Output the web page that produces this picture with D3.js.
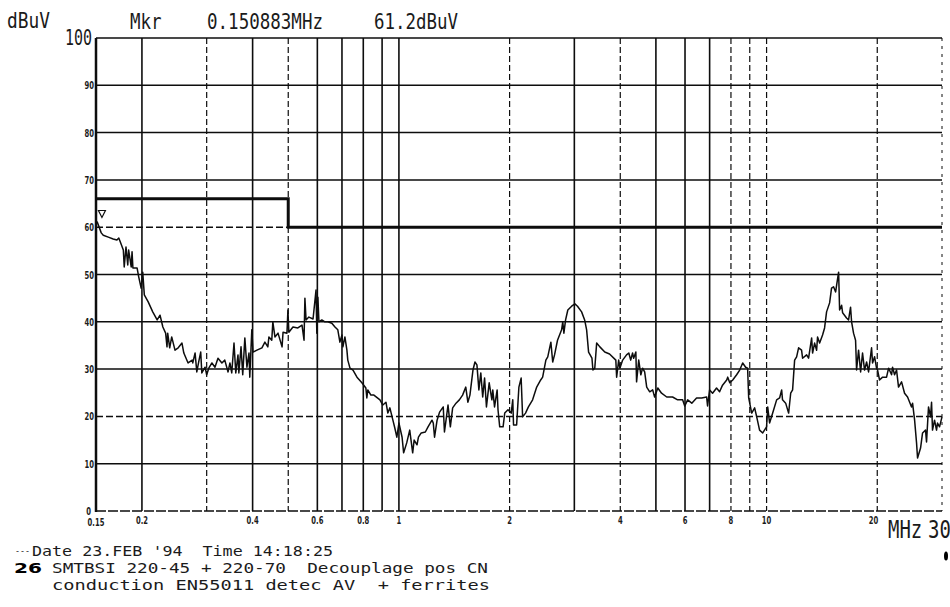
<!DOCTYPE html>
<html>
<head>
<meta charset="utf-8">
<script src="https://cdn.jsdelivr.net/npm/d3@7"></script>
<style>
  body { margin: 0; background: #fff; }
  text { white-space: pre; }
</style>
</head>
<body>
<script>
const freqMHz = [
  0.151, 0.155, 0.157, 0.162, 0.167, 0.171, 0.173, 0.175, 0.178, 0.179,
  0.181, 0.183, 0.184, 0.187, 0.188, 0.189, 0.194, 0.196, 0.199, 0.201,
  0.203, 0.208, 0.214, 0.220, 0.224, 0.228, 0.232, 0.234, 0.235, 0.238,
  0.241, 0.246, 0.251, 0.257, 0.260, 0.267, 0.274, 0.275, 0.279, 0.282,
  0.286, 0.289, 0.291, 0.297, 0.300, 0.304, 0.310, 0.316, 0.322, 0.330,
  0.336, 0.343, 0.347, 0.351, 0.356, 0.360, 0.365, 0.367, 0.372, 0.376,
  0.381, 0.386, 0.391, 0.393, 0.398, 0.401, 0.411, 0.424, 0.432, 0.440,
  0.443, 0.451, 0.454, 0.460, 0.469, 0.481, 0.484, 0.496, 0.499, 0.502,
  0.515, 0.531, 0.545, 0.552, 0.555, 0.559, 0.569, 0.584, 0.595, 0.598,
  0.602, 0.606, 0.617, 0.629, 0.641, 0.657, 0.670, 0.682, 0.691, 0.700,
  0.704, 0.713, 0.722, 0.726, 0.736, 0.750, 0.769, 0.793, 0.813, 0.818,
  0.823, 0.839, 0.855, 0.888, 0.904, 0.922, 0.933, 0.945, 0.963, 0.975,
  0.987, 1.00, 1.02, 1.03, 1.05, 1.07, 1.09, 1.10, 1.12, 1.13,
  1.15, 1.18, 1.20, 1.23, 1.24, 1.25, 1.27, 1.29, 1.32, 1.33,
  1.36, 1.38, 1.40, 1.43, 1.46, 1.49, 1.52, 1.54, 1.56, 1.59,
  1.61, 1.63, 1.65, 1.67, 1.69, 1.71, 1.73, 1.76, 1.79, 1.80,
  1.82, 1.85, 1.86, 1.88, 1.92, 1.94, 1.98, 2.02, 2.04, 2.05,
  2.09, 2.12, 2.15, 2.17, 2.21, 2.25, 2.31, 2.37, 2.43, 2.46,
  2.51, 2.54, 2.59, 2.62, 2.65, 2.70, 2.77, 2.79, 2.81, 2.84,
  2.88, 2.95, 3.01, 3.06, 3.14, 3.20, 3.24, 3.28, 3.35, 3.37,
  3.41, 3.45, 3.52, 3.63, 3.74, 3.89, 3.91, 3.96, 3.99, 4.06,
  4.16, 4.22, 4.27, 4.32, 4.35, 4.41, 4.43, 4.49, 4.55, 4.60,
  4.66, 4.72, 4.81, 4.90, 4.96, 5.06, 5.18, 5.35, 5.55, 5.73,
  5.91, 5.99, 6.10, 6.26, 6.45, 6.66, 6.87, 6.91, 7.00, 7.13,
  7.31, 7.45, 7.59, 7.79, 7.84, 7.94, 8.09, 8.29, 8.45, 8.61,
  8.77, 8.88, 8.94, 9.11, 9.28, 9.40, 9.57, 9.76, 10.0, 10.07,
  10.19, 10.39, 10.65, 10.85, 10.99, 11.05, 11.27, 11.48, 11.63, 11.77,
  11.92, 12.07, 12.22, 12.45, 12.53, 12.85, 13.01, 13.26, 13.34, 13.51,
  13.68, 13.76, 13.94, 14.20, 14.38, 14.56, 14.84, 15.02, 15.21, 15.41,
  15.51, 15.70, 15.80, 16.00, 16.10, 16.50, 16.71, 16.92, 17.03, 17.24,
  17.46, 17.57, 17.79, 18.02, 18.24, 18.47, 18.71, 18.94, 19.30, 19.42,
  19.67, 19.91, 20.04, 20.29, 20.68, 21.20, 21.47, 21.88, 22.01, 22.29,
  22.57, 22.85, 23.29, 23.73, 24.18, 24.79, 24.95, 25.27, 25.58, 25.74,
  26.23, 26.56, 27.06, 27.23, 27.57, 27.92, 28.10, 28.27, 28.63, 28.99,
  29.17, 29.54, 30.0
];
const levelDb = [
  61.2, 58.8, 58.3, 57.9, 57.5, 57.3, 57.7, 56.7, 55.2, 51.6,
  55.8, 52.0, 55.2, 51.6, 54.8, 51.4, 51.4, 49.5, 47.1, 50.5,
  45.7, 44.2, 42.1, 40.4, 41.4, 38.9, 37.6, 34.7, 37.6, 34.5,
  36.8, 34.0, 34.5, 35.5, 33.4, 31.3, 31.9, 31.3, 33.4, 29.4,
  31.9, 33.6, 29.2, 30.4, 28.8, 30.2, 31.3, 30.4, 32.3, 31.3,
  31.9, 29.4, 31.3, 29.2, 35.5, 29.2, 33.0, 29.2, 34.7, 28.8,
  36.6, 30.4, 33.4, 28.3, 38.3, 33.6, 34.0, 34.5, 35.7, 34.7,
  36.8, 36.1, 40.0, 36.8, 37.6, 34.7, 37.8, 37.6, 42.5, 37.8,
  38.9, 38.7, 39.3, 36.1, 45.0, 40.4, 41.0, 40.6, 46.7, 37.6,
  45.2, 40.0, 40.4, 40.0, 40.0, 39.7, 38.9, 38.3, 35.7, 37.2,
  34.7, 36.8, 34.0, 31.9, 30.2, 29.8, 28.3, 27.1, 26.0, 23.9,
  25.6, 24.5, 24.5, 23.5, 22.4, 23.0, 20.7, 21.8, 19.2, 17.5,
  15.6, 18.6, 15.6, 12.3, 14.4, 17.1, 12.3, 15.0, 14.0, 15.6,
  16.5, 16.7, 17.8, 19.2, 18.6, 15.6, 19.2, 20.9, 22.0, 16.7,
  22.4, 17.8, 21.8, 22.8, 23.5, 24.5, 26.2, 23.0, 24.5, 29.8,
  31.5, 30.9, 25.6, 29.2, 24.1, 28.1, 22.0, 27.1, 23.5, 25.6,
  22.0, 25.6, 21.4, 17.8, 17.8, 20.7, 21.4, 20.7, 23.5, 18.2,
  18.2, 26.2, 28.1, 19.9, 20.7, 22.0, 23.5, 26.2, 27.7, 28.3,
  31.9, 32.6, 35.7, 31.5, 33.0, 36.1, 38.3, 40.0, 37.6, 40.4,
  42.5, 43.3, 43.8, 43.3, 42.1, 40.4, 38.3, 33.6, 32.3, 29.8,
  30.2, 35.5, 34.7, 33.6, 33.2, 31.9, 28.3, 31.9, 30.2, 31.9,
  33.0, 33.4, 31.9, 33.4, 32.3, 33.6, 27.3, 31.9, 28.8, 30.2,
  29.4, 26.2, 25.2, 25.6, 24.1, 26.0, 24.9, 24.1, 24.1, 23.5,
  23.5, 22.2, 23.5, 22.8, 23.9, 23.9, 24.1, 22.2, 25.6, 24.9,
  26.0, 25.2, 26.6, 27.7, 28.3, 27.1, 27.7, 28.8, 29.8, 31.3,
  30.4, 30.2, 23.9, 20.7, 21.8, 19.9, 17.1, 16.5, 17.8, 22.0,
  18.6, 20.7, 23.5, 23.9, 25.6, 23.5, 22.8, 20.7, 24.9, 25.6,
  31.9, 32.6, 34.5, 34.0, 32.3, 33.0, 32.3, 36.6, 33.4, 35.5,
  34.0, 36.8, 35.5, 37.2, 38.7, 42.1, 44.0, 47.1, 47.4, 46.3,
  47.8, 50.5, 42.5, 43.5, 41.9, 40.8, 40.4, 43.1, 40.0, 37.6,
  36.1, 29.8, 34.0, 29.4, 33.4, 29.8, 31.5, 29.4, 34.5, 31.3,
  32.6, 30.2, 29.8, 27.7, 28.3, 28.3, 30.2, 28.8, 30.4, 28.8,
  29.8, 26.2, 27.3, 24.9, 24.1, 22.0, 22.8, 19.2, 14.4, 11.2,
  13.3, 16.5, 17.1, 14.6, 22.0, 19.9, 23.0, 17.1, 19.2, 17.1,
  18.6, 17.8, 19.9
];

// EN55011 average limit
const limitFreq = [0.15, 0.5, 0.5, 30];
const limitDb = [66, 66, 60, 60];

const markerFreq = 0.150883;
const markerDb = 61.2;

const levelTicks = [10, 20, 30, 40, 50, 60, 70, 80, 90, 100];
const gridFreq = [0.2, 0.3, 0.4, 0.5, 0.6, 0.7, 0.8, 0.9, 1, 2, 3, 4, 5, 6, 7, 8, 9, 10, 20];
const freqLabelVals = [0.2, 0.4, 0.6, 0.8, 1, 2, 4, 6, 8, 10, 20];
const freqLabelText = ["0.2", "0.4", "0.6", "0.8", "1", "2", "4", "6", "8", "10", "20"];

const unitY = "dBuV";
const unitX = "MHz";
const noteLines = [
  "Date 23.FEB '94  Time 14:18:25",
  "SMTBSI 220-45 + 220-70  Decouplage pos CN",
  "conduction EN55011 detec AV  + ferrites"
];
const plotNumber = "26";

// ---------------------------------------------------------------
const W = 950, H = 607;
const ink = "#0d0d0d";
const mono = "'DejaVu Sans Mono', 'Liberation Mono', monospace";
const sans = "'DejaVu Sans', sans-serif";

const x = d3.scaleLog().domain([0.15, 30]).range([96, 942]);
const y = d3.scaleLinear().domain([0, 100]).range([511, 38]);

const svg = d3.select("body").append("svg")
  .attr("width", W).attr("height", H)
  .attr("viewBox", `0 0 ${W} ${H}`);
svg.append("rect").attr("width", W).attr("height", H).attr("fill", "#fff");

// small helper for the stretched plotter lettering
const label = (str, px, py, o = {}) => {
  const t = svg.append("text")
    .attr("transform", `translate(${px},${py}) scale(${o.sx || 1},${o.sy || 1})`)
    .attr("text-anchor", o.anchor || "start")
    .attr("font-family", o.family || mono)
    .attr("font-size", o.size || 17)
    .attr("font-weight", o.weight || "normal")
    .attr("fill", o.fill || "#1b1b1b")
    .text(str);
  if (o.len) t.attr("textLength", o.len).attr("lengthAdjust", "spacingAndGlyphs");
  return t;
};

const dashedLevels = [20, 60];
const dashedFreq = [0.3, 0.5, 2, 4, 8, 9, 10, 20];

// horizontal grid
svg.append("g").selectAll("line")
  .data(levelTicks)
  .join("line")
  .attr("x1", x(0.15)).attr("x2", x(30))
  .attr("y1", (d) => y(d)).attr("y2", (d) => y(d))
  .attr("stroke", ink)
  .attr("stroke-width", 1.5)
  .attr("stroke-dasharray", (d) => (dashedLevels.includes(d) ? "7,3" : null));

// vertical grid
svg.append("g").selectAll("line")
  .data(gridFreq)
  .join("line")
  .attr("x1", (d) => x(d)).attr("x2", (d) => x(d))
  .attr("y1", y(100)).attr("y2", y(0))
  .attr("stroke", ink)
  .attr("stroke-width", (d) => (dashedFreq.includes(d) ? 1.2 : 1.6))
  .attr("stroke-dasharray", (d) => (dashedFreq.includes(d) ? "6,3" : null));

// frame
svg.append("line")
  .attr("x1", x(0.15)).attr("x2", x(0.15)).attr("y1", y(100)).attr("y2", y(0) + 1)
  .attr("stroke", ink).attr("stroke-width", 2.5);
svg.append("line")
  .attr("x1", x(0.15)).attr("x2", x(30)).attr("y1", y(0)).attr("y2", y(0))
  .attr("stroke", ink).attr("stroke-width", 1.5).attr("stroke-dasharray", "10,2");
svg.append("line")
  .attr("x1", x(30)).attr("x2", x(30)).attr("y1", y(100)).attr("y2", y(0))
  .attr("stroke", ink).attr("stroke-width", 1).attr("stroke-dasharray", "3,5");

// limit line
const line = d3.line().x((d) => x(d[0])).y((d) => y(d[1]));
svg.append("path")
  .datum(limitFreq.map((f, i) => [f, limitDb[i]]))
  .attr("d", line)
  .attr("fill", "none")
  .attr("stroke", ink)
  .attr("stroke-width", 3);

// trace
svg.append("path")
  .datum(freqMHz.map((f, i) => [f, levelDb[i]]))
  .attr("d", line)
  .attr("fill", "none")
  .attr("stroke", ink)
  .attr("stroke-width", 1.5)
  .attr("stroke-linejoin", "round");

// marker triangle
const mx = x(markerFreq) + 5, my = y(markerDb) - 4;
svg.append("path")
  .attr("d", `M${mx - 3.5},${my - 7}L${mx + 3.5},${my - 7}L${mx},${my}Z`)
  .attr("fill", "none").attr("stroke", ink).attr("stroke-width", 1.2);

// y labels
levelTicks.filter((d) => d < 100).forEach((d) => {
  label(String(d), 94, y(d) + 4, { family: sans, weight: "bold", size: 11, sx: 0.62, anchor: "end" });
});
label("0", 91, y(0) + 4, { family: sans, weight: "bold", size: 11, sx: 0.62, anchor: "end" });
label("100", 92, 45, { size: 15, sy: 1.36, anchor: "end" });

// x labels
label("0.15", x(0.15), 526, { family: sans, weight: "bold", size: 10, sx: 0.68, anchor: "middle" });
freqLabelVals.forEach((f, i) => {
  const anchor = f === 20 ? "end" : "middle";
  label(freqLabelText[i], x(f) + (f === 20 ? 1 : 0), 524, { family: sans, weight: "bold", size: 10, sx: 0.68, anchor });
});
label(unitX, 888, 538, { size: 19, sy: 1.3 });
label("30", 928, 538, { size: 19, sy: 1.3 });

// header
label(unitY, 7, 28, { size: 17.5, sy: 1.17, len: 43 });
label("Mkr", 130, 29, { size: 17.5, sy: 1.17 });
label(`${markerFreq}${unitX}`, 207, 29, { size: 17.5, sy: 1.17, len: 116 });
label(`${markerDb}${unitY}`, 374, 29, { size: 17.5, sy: 1.17, len: 84 });

// notes under the plot
label("---", 15, 554, { size: 9, len: 15 });
label(noteLines[0], 32, 556, { size: 14, len: 301 });
label(plotNumber, 14, 573, { family: sans, weight: 900, size: 14.5, len: 28, fill: "#000" });
label(noteLines[1], 52, 573, { size: 14, len: 436 });
label(noteLines[2], 52, 590, { size: 14, len: 438 });

// ink blot at the right margin
svg.append("ellipse")
  .attr("cx", 946).attr("cy", 556).attr("rx", 2).attr("ry", 4.5).attr("fill", "#000");
</script>
</body>
</html>
